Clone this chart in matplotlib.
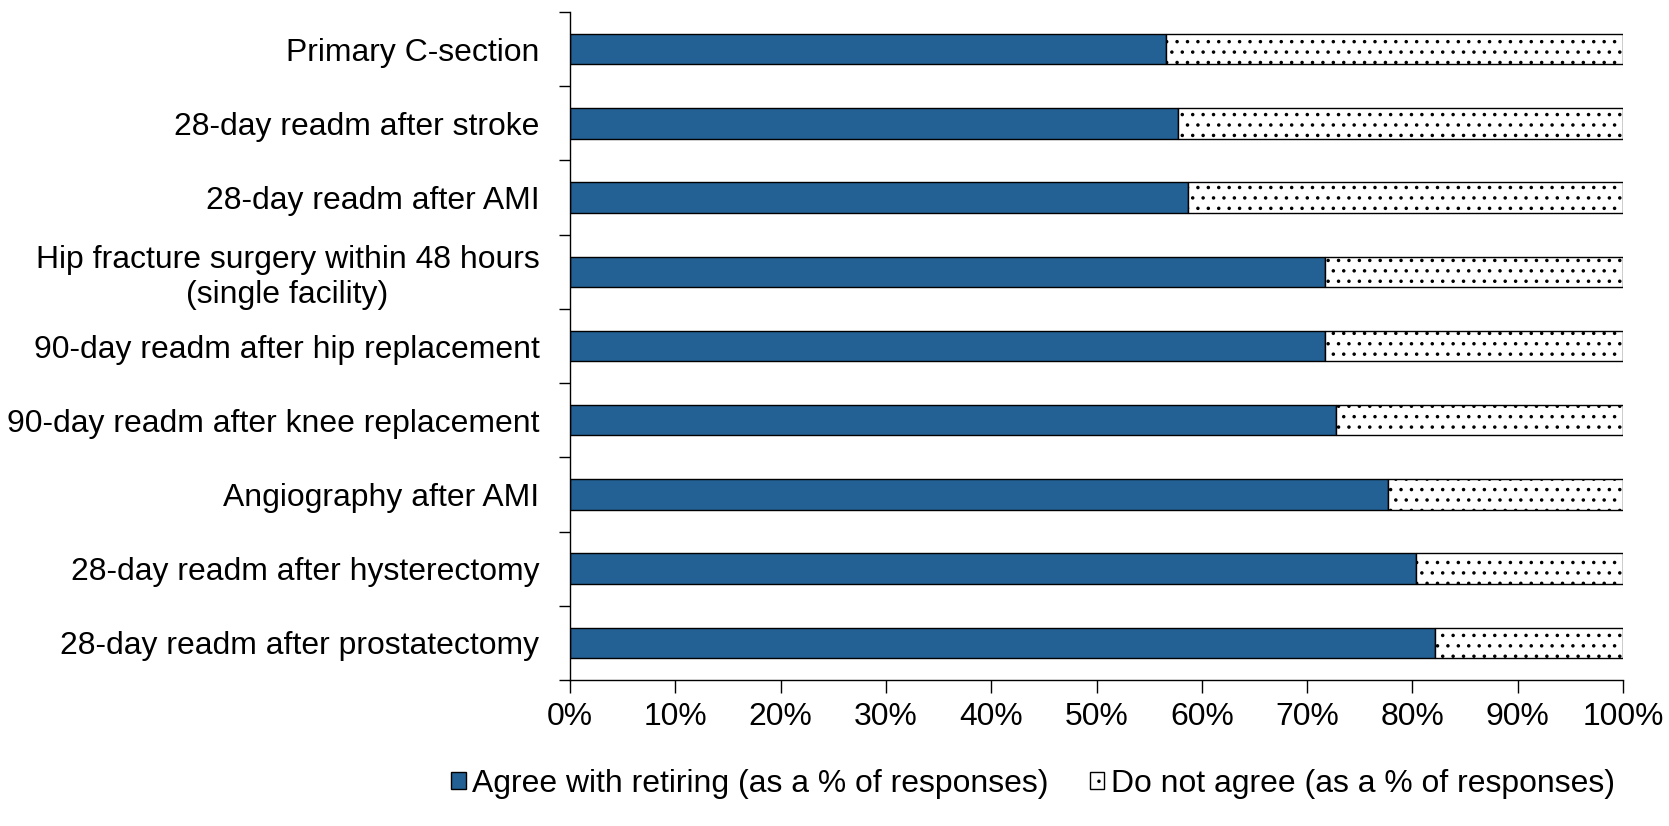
import matplotlib.pyplot as plt
import matplotlib.ticker as mticker
import numpy as np

# hatch cell is one inch at the save dpi, so a higher dpi gives sparser dots
DPI = 125
S = 100 / DPI  # points per pixel-at-100dpi

plt.rcParams['font.family'] = ['Liberation Sans', 'DejaVu Sans']
plt.rcParams['hatch.linewidth'] = 1.0 * S

# categories, bottom to top
measures = [
    "28-day readm after prostatectomy",
    "28-day readm after hysterectomy",
    "Angiography after AMI",
    "90-day readm after knee replacement",
    "90-day readm after hip replacement",
    "Hip fracture surgery within 48 hours\n(single facility)",
    "28-day readm after AMI",
    "28-day readm after stroke",
    "Primary C-section",
]
agree = [82.1, 80.3, 77.7, 72.7, 71.7, 71.7, 58.7, 57.7, 56.6]
not_agree = [100 - a for a in agree]

fig = plt.figure(figsize=(1669 / DPI, 826 / DPI), dpi=DPI)
ax = fig.add_axes([570 / 1669, 1 - 680 / 826, 1053 / 1669, 668 / 826])

y = np.arange(len(measures))
ax.barh(y, agree, height=0.41, color='#236194', edgecolor='black', linewidth=1 * S,
        label='Agree with retiring (as a % of responses)')
ax.barh(y, not_agree, left=agree, height=0.41, color='white', edgecolor='black',
        linewidth=1 * S, hatch='..', label='Do not agree (as a % of responses)')

ax.set_xlim(0, 100)
ax.set_ylim(-0.5, len(measures) - 0.5)
ax.set_xticks(np.arange(0, 101, 10))
ax.xaxis.set_major_formatter(mticker.FuncFormatter(lambda v, p: '%d%%' % v))
ax.set_yticks(y)
ax.set_yticklabels(measures, ha='right', multialignment='center')
ax.set_yticks(np.arange(-0.5, len(measures), 1), minor=True)
ax.tick_params(axis='y', which='major', length=0, pad=22 * S, labelsize=23 * S)
ax.tick_params(axis='y', which='minor', length=8 * S, width=1 * S, direction='out')
ax.tick_params(axis='x', length=9 * S, width=1 * S, direction='out', pad=7 * S,
               labelsize=23 * S)

for s in ['top', 'right']:
    ax.spines[s].set_visible(False)
ax.spines['left'].set_linewidth(1 * S)
ax.spines['bottom'].set_linewidth(1 * S)

fig.legend(loc='center', bbox_to_anchor=(1033 / 1669, 1 - 784 / 826), ncol=2,
           frameon=False, fontsize=23 * S, handlelength=0.45, handleheight=0.45,
           handletextpad=0.2, columnspacing=1.3)

fig.savefig('out.png', dpi=DPI)
